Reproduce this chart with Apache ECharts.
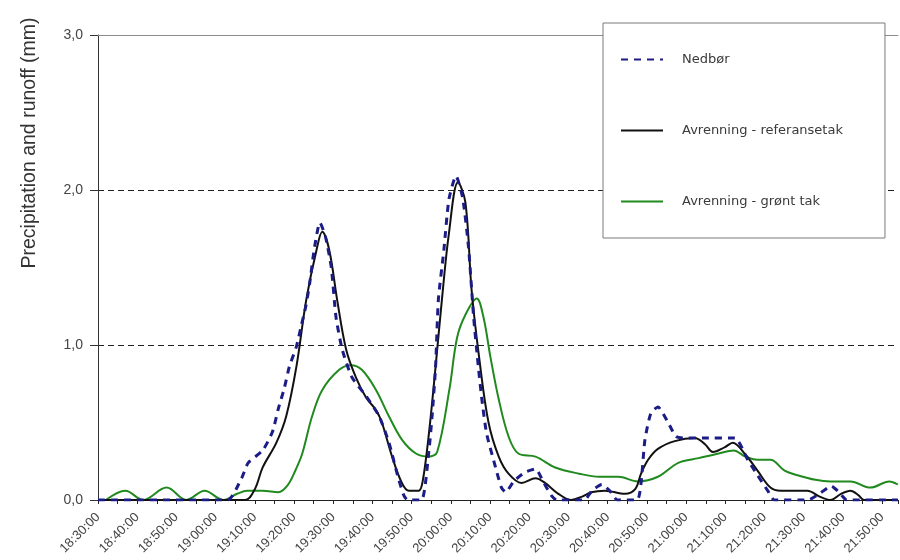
<!DOCTYPE html>
<html>
<head>
<meta charset="utf-8">
<script src="https://cdn.jsdelivr.net/npm/echarts@6/dist/echarts.min.js"></script>
<style>
  html, body { margin: 0; padding: 0; background: #fff; }
  #chart { width: 900px; height: 560px; }
</style>
</head>
<body>
<div id="chart"></div>
<script>
// Time axis runs in minutes after the first reading (18:30:00)
const startClock = 18 * 60 + 30;
const axisSpanMin = 204;

// Nedbør (precipitation), mm
const nedborMin = [0, 33, 36.6, 38.3, 42, 44.5, 46, 47.5, 48.8, 50.6, 51.8, 53, 54, 55.1, 56.6, 58, 59.5, 60.7, 62.3, 64.8, 68.4, 71.7, 74.2, 76.5, 78, 79,
  82.5, 84.4, 85.2, 86.1, 86.8, 88.2, 89.5, 91.3, 93, 94.5, 95.8, 97, 97.9, 99.1, 101.4, 102.9, 104, 106, 109, 111.6, 113.5, 115.6, 117,
  124, 126, 128.5, 130.5, 132.5, 137.5, 139.5, 141, 142.8, 145.4, 147.4, 149.7, 155, 162.4, 165.7, 168.2, 170.8, 172.5,
  181, 184, 187, 189, 191, 204];
const nedborMm = [0, 0, 0.14, 0.24, 0.32, 0.44, 0.59, 0.72, 0.86, 0.99, 1.12, 1.25, 1.4, 1.61, 1.79, 1.7, 1.5, 1.18, 0.97, 0.79, 0.67, 0.54, 0.37, 0.15, 0.03, 0,
  0, 0.32, 0.54, 0.86, 1.29, 1.61, 1.94, 2.09, 1.95, 1.63, 1.18, 0.86, 0.65, 0.43, 0.21, 0.08, 0.05, 0.12, 0.18, 0.2, 0.12, 0.03, 0,
  0, 0.06, 0.1, 0.06, 0, 0, 0.39, 0.56, 0.6, 0.5, 0.41, 0.4, 0.4, 0.4, 0.26, 0.16, 0.06, 0,
  0, 0.04, 0.09, 0.05, 0, 0];

// Avrenning - referansetak (runoff, reference roof), mm
const refMin = [0, 37.5, 40, 42, 45.5, 48, 50.6, 53.1, 55.7, 57.2, 59, 61, 63.3, 65.8, 68.4, 70.9, 72.4, 75, 77.5, 79.3, 81.8,
  82.8, 84.4, 86.1, 87.7, 89.5, 91.8, 93.7, 95.3, 97.3, 99.6, 102.2, 104.7, 108, 111.6, 114, 117.4, 120.7, 123.3, 125.8, 129.3, 134.4, 137,
  138.5, 140.3, 142.8, 147.1, 152.2, 154.8, 156.8, 159.8, 161.9, 164.9, 168.2, 171.5, 174.1, 180.9, 184.2, 186.8, 189.5, 191.9, 194, 195.4, 204];
const refMm = [0, 0, 0.07, 0.21, 0.37, 0.54, 0.86, 1.29, 1.61, 1.73, 1.61, 1.29, 0.97, 0.79, 0.66, 0.58, 0.5, 0.28, 0.11, 0.06, 0.06,
  0.12, 0.43, 0.86, 1.29, 1.72, 2.05, 1.92, 1.35, 0.9, 0.5, 0.28, 0.17, 0.11, 0.14, 0.11, 0.04, 0, 0.02, 0.05, 0.06, 0.04, 0.07,
  0.17, 0.26, 0.33, 0.38, 0.4, 0.36, 0.31, 0.34, 0.37, 0.3, 0.19, 0.08, 0.06, 0.06, 0.02, 0, 0.04, 0.06, 0.03, 0, 0];

// Avrenning - grønt tak (runoff, green roof), mm
const greenMin = [2, 7, 11.5, 17.5, 22.5, 27.2, 32, 35.5, 38, 42, 46, 48.5, 50.5, 52.1, 54.6, 57.2, 61.5, 64.5, 67.3, 70.9, 74.2, 77.5, 81.1, 84.4,
  86.5, 89.6, 91.6, 93.8, 96.6, 98.3, 100.1, 102.2, 104.7, 107.2, 111.6, 116.6, 122.7, 127.8, 132.7, 137.7, 142.8, 148, 153.2, 158.3, 162.1,
  165.1, 168.2, 171.5, 175.1, 178.4, 183, 186.8, 191.9, 197, 201.8, 204];
const greenMm = [0, 0.06, 0, 0.08, 0, 0.06, 0, 0.04, 0.06, 0.06, 0.05, 0.1, 0.2, 0.3, 0.54, 0.71, 0.84, 0.87, 0.84, 0.71, 0.54, 0.39, 0.3, 0.28,
  0.31, 0.71, 1.05, 1.2, 1.3, 1.18, 0.92, 0.65, 0.41, 0.3, 0.28, 0.21, 0.17, 0.15, 0.15, 0.12, 0.15, 0.24, 0.27, 0.3, 0.32,
  0.28, 0.26, 0.26, 0.19, 0.16, 0.13, 0.12, 0.12, 0.08, 0.12, 0.1];

const yTicks = [0, 1, 2, 3];

const pairs = (xs, ys) => xs.map((x, i) => [x, ys[i]]);
const pad2 = n => (n < 10 ? '0' : '') + n;
const clockLabel = m => {
  if (m % 10 !== 0) return '';
  const t = startClock + m;
  return Math.floor(t / 60) + ':' + pad2(t % 60) + ':00';
};
const mmLabel = v => v.toFixed(1).replace('.', ',');

const chart = echarts.init(document.getElementById('chart'), null, { renderer: 'canvas' });

chart.setOption({
  animation: false,
  backgroundColor: '#ffffff',
  grid: { left: 98, right: 0, top: 35, bottom: 60, containLabel: false },
  legend: {
    orient: 'vertical',
    left: 603,
    top: 23,
    padding: [30, 42, 30, 17],
    itemWidth: 42,
    itemHeight: 14,
    itemGap: 58,
    itemStyle: { opacity: 0 },
    backgroundColor: '#ffffff',
    borderColor: '#7a7a7a',
    borderWidth: 1,
    textStyle: { fontFamily: 'DejaVu Sans', fontSize: 13, color: '#3a3a3a', padding: [0, 0, 0, 14] },
    data: ['Nedbør', 'Avrenning - referansetak', 'Avrenning - grønt tak']
  },
  graphic: [{
    type: 'text',
    x: 30,
    y: 143,
    rotation: Math.PI / 2,
    style: {
      text: 'Precipitation and runoff (mm)',
      font: '19.5px "Liberation Sans", Arial, sans-serif',
      fill: '#333',
      align: 'center',
      verticalAlign: 'middle'
    }
  }],
  xAxis: [{
    type: 'value',
    min: 0,
    max: axisSpanMin,
    interval: 5,
    position: 'bottom',
    axisLine: { show: true, lineStyle: { color: '#222', width: 1 } },
    axisTick: { show: true, length: 4, lineStyle: { color: '#222' } },
    axisLabel: {
      rotate: 45,
      margin: 15,
      formatter: clockLabel,
      fontFamily: 'Liberation Sans',
      fontSize: 13,
      color: '#444'
    },
    splitLine: { show: false }
  }, {
    type: 'value',
    min: 0,
    max: axisSpanMin,
    position: 'top',
    axisLine: { show: true, lineStyle: { color: '#8c8c8c', width: 1 } },
    axisTick: { show: false },
    axisLabel: { show: false },
    splitLine: { show: false }
  }],
  yAxis: {
    type: 'value',
    min: yTicks[0],
    max: yTicks[yTicks.length - 1],
    interval: 1,
    axisLine: { show: true, lineStyle: { color: '#333', width: 1 } },
    axisTick: { show: true, length: 8, lineStyle: { color: '#333' } },
    axisLabel: { formatter: mmLabel, margin: 15, fontFamily: 'Liberation Sans', fontSize: 14, color: '#444' },
    splitLine: {
      show: true,
      showMinLine: false,
      showMaxLine: false,
      lineStyle: { color: '#222', width: 1, type: [6, 4] }
    }
  },
  series: [{
    name: 'Nedbør',
    type: 'line',
    z: 4,
    data: pairs(nedborMin, nedborMm),
    symbol: 'none',
    smooth: 0.2,
    lineStyle: { color: '#1c1c86', width: 3, type: [7, 6] },
    itemStyle: { color: '#1c1c86' }
  }, {
    name: 'Avrenning - referansetak',
    type: 'line',
    z: 3,
    data: pairs(refMin, refMm),
    symbol: 'none',
    smooth: 0.35,
    lineStyle: { color: '#111', width: 2 },
    itemStyle: { color: '#111' }
  }, {
    name: 'Avrenning - grønt tak',
    type: 'line',
    z: 2,
    data: pairs(greenMin, greenMm),
    symbol: 'none',
    smooth: 0.35,
    lineStyle: { color: '#218a1f', width: 2 },
    itemStyle: { color: '#218a1f' }
  }]
});
</script>
</body>
</html>
